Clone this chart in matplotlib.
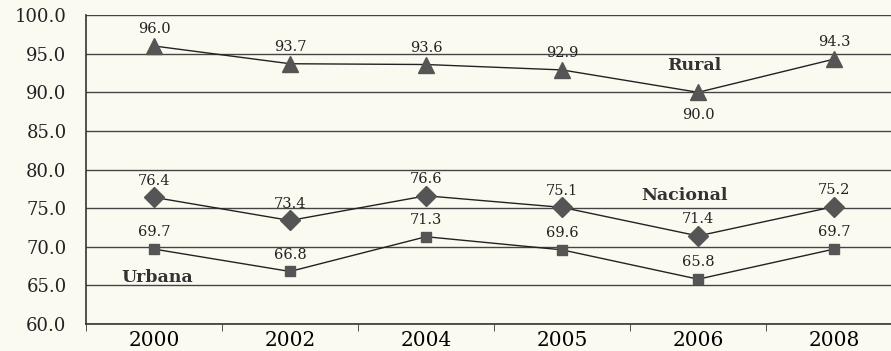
import matplotlib.pyplot as plt
import numpy as np

# Data
years = ["2000", "2002", "2004", "2005", "2006", "2008"]
rural = [96.0, 93.7, 93.6, 92.9, 90.0, 94.3]
nacional = [76.4, 73.4, 76.6, 75.1, 71.4, 75.2]
urbana = [69.7, 66.8, 71.3, 69.6, 65.8, 69.7]

plt.rcParams['font.family'] = ['DejaVu Serif']

bg = '#fbfaf1'
fig = plt.figure(figsize=(8.91, 3.51), dpi=100, facecolor=bg)
ax = fig.add_axes([0.0965, 0.077, 0.916, 0.880], facecolor=bg)

x = np.arange(len(years))
marker_col = '#555555'

ax.plot(x, rural, color='#222222', lw=1.0, marker='^', ms=11,
        mfc=marker_col, mec=marker_col, zorder=3)
ax.plot(x, nacional, color='#222222', lw=1.0, marker='D', ms=10,
        mfc=marker_col, mec=marker_col, zorder=3)
ax.plot(x, urbana, color='#222222', lw=1.0, marker='s', ms=7.5,
        mfc=marker_col, mec=marker_col, zorder=3)

# Value labels
for i, v in enumerate(rural):
    if i == 4:
        ax.annotate(f'{v:.1f}', (i, v), xytext=(0, -11), textcoords='offset points',
                    ha='center', va='top', fontsize=10.5, color='#222222')
    else:
        ax.annotate(f'{v:.1f}', (i, v), xytext=(0, 7), textcoords='offset points',
                    ha='center', va='bottom', fontsize=10.5, color='#222222')
for series in (nacional, urbana):
    for i, v in enumerate(series):
        ax.annotate(f'{v:.1f}', (i, v), xytext=(0, 7), textcoords='offset points',
                    ha='center', va='bottom', fontsize=10.5, color='#222222')

# Series names
ax.text(3.97, 93.5, 'Rural', ha='center', va='center', fontsize=12.5,
        fontweight='bold', color='#333333')
ax.text(3.9, 76.6, 'Nacional', ha='center', va='center', fontsize=12.5,
        fontweight='bold', color='#333333')
ax.text(0.02, 66.0, 'Urbana', ha='center', va='center', fontsize=12.5,
        fontweight='bold', color='#333333')

ax.set_xlim(-0.5, len(years) - 0.5)
ax.set_ylim(60, 100)
ax.set_yticks(np.arange(60, 100.1, 5))
ax.set_yticklabels([f'{t:.1f}' for t in np.arange(60, 100.1, 5)], fontsize=13)
ax.set_xticks(x)
ax.set_xticklabels(years, fontsize=14.5)
ax.set_xticks(np.arange(-0.5, len(years), 1), minor=True)
ax.tick_params(axis='x', which='major', length=0, pad=5)
ax.tick_params(axis='x', which='minor', length=5, direction='out', color='#333333')
ax.tick_params(axis='y', length=0, pad=14, colors='#222222')

ax.yaxis.grid(True, color='#444444', lw=1.0)
ax.set_axisbelow(True)
for s in ['top', 'right']:
    ax.spines[s].set_visible(False)
ax.spines['left'].set_color('#333333')
ax.spines['bottom'].set_color('#333333')
ax.spines['left'].set_linewidth(1.2)
ax.spines['bottom'].set_linewidth(1.2)

fig.savefig('out.png', dpi=100, facecolor=bg)
